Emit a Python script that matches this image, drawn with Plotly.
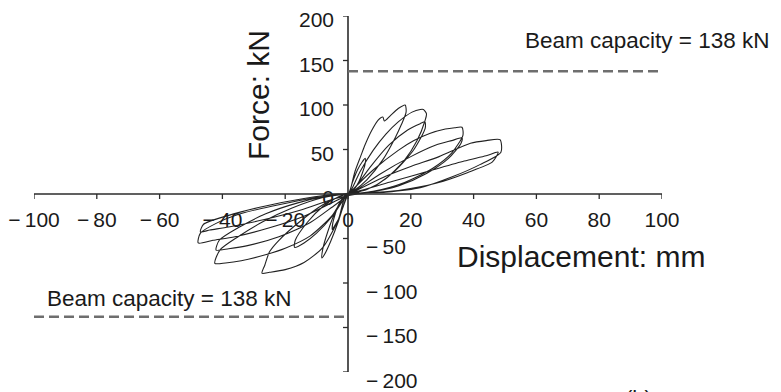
import plotly.graph_objects as go

# ---------------- data ----------------
x_ticks = [-100, -80, -60, -40, -20, 0, 20, 40, 60, 80, 100]
x_tick_labels = ["\u2212\u2009100", "\u2212\u200980", "\u2212\u200960", "\u2212\u200940", "\u2212\u200920",
                 "0", "20", "40", "60", "80", "100"]
y_ticks_pos = [0, 50, 100, 150, 200]
y_tick_labels_pos = ["0", "50", "100", "150", "200"]
y_ticks_neg = [-50, -100, -150, -200]
y_tick_labels_neg = ["\u2212\u200950", "\u2212\u2009100", "\u2212\u2009150", "\u2212\u2009200"]
y_tick_marks = [200, 150, 100, 50, -50, -100, -150, -200]

beam_capacity = 138

cycle1_disp = [0, 1.5, 3, 4.5, 5.5, 5.4, 3.5, 1.5, 0, -1.5, -3, -4.5, -5, -4.8, -3, -1, 0.5]
cycle1_force = [0, 14, 27, 36, 40, 33, 14, 3, -1, -14, -28, -37, -40, -32, -12, -2, 1]

cycle2_disp = [1, 2.2, 4, 5.4, 7.5, 9.6, 11.1, 11.6, 13.5, 16, 18.2, 18.5, 17, 15, 11, 6, 2, 0,
               -1, -3, -5.5, -7.5, -8.3, -8.1, -6.5, -4, -1.5, 0.5]
cycle2_force = [8, 25, 42, 55, 71, 83, 86.5, 82, 88, 96, 100, 92, 78, 63, 38, 16, 4, 0,
                -8, -30, -53, -68, -72, -63, -43, -20, -5, 1]

cycle3_disp = [1, 4, 8, 12, 16, 20.4, 23, 24, 25, 24.5, 22, 18, 12, 6, 1,
               -1, -5, -10, -14, -17, -16.8, -13, -8, -3, 0.5]
cycle3_force = [4, 26, 49, 67, 81, 92, 95, 95, 90, 82, 60, 38, 17, 5, 0,
                -5, -25, -44, -55, -60, -52, -32, -14, -3, 1]

cycle4_disp = [2, 7, 13, 19, 23, 24.5, 24.6, 21, 15, 8, 1,
               -1, -3, -8, -14, -20, -25, -27.4, -26.5, -25, -22, -15, -8, -2, 0.5]
cycle4_force = [6, 30, 55, 72, 79, 81, 74, 50, 26, 8, 0,
                -4, -28, -60, -77, -85, -88, -89, -80, -65, -52, -30, -12, -2, 1]

cycle5_disp = [1, 8, 16, 21, 26, 31, 34, 36.3, 36.6, 33, 27, 18, 8, 1,
               -1, -5, -12, -20, -26, -34, -39, -42.4, -40.8, -35, -27, -18, -8, 0.5]
cycle5_force = [3, 27, 49, 60, 68, 73, 74.5, 75, 66, 46, 29, 13, 3, 0,
                -2, -24, -47, -61, -68, -75, -77.5, -78, -63, -48, -31, -16, -4, 1]

cycle6_disp = [2, 10, 20, 28, 33, 36.3, 36, 32, 25, 16, 7, 1,
               -4, -12, -22, -32, -38, -42, -41, -35, -26, -16, -6, 0.5]
cycle6_force = [3, 22, 42, 55, 60, 63, 57, 40, 23, 9, 2, 0,
                -12, -32, -48, -58, -61.5, -63, -52, -38, -22, -10, -2, 1]

cycle7_disp = [2, 12, 20, 29, 39, 44, 48.4, 48.7, 42, 33, 23, 12, 1,
               -4, -14, -25, -36, -43, -47.7, -47, -42, -34, -22, -10, 0.5]
cycle7_force = [3, 20, 31, 42, 57, 60, 61, 47, 33, 19, 7, 2, 0,
                -8, -25, -38, -48, -52, -55, -44, -33, -22, -12, -4, 1]

cycle8_disp = [3, 14, 26, 37, 44, 47.8, 46, 38, 28, 16, 3,
               -4, -15, -27, -38, -44, -47, -46, -38, -27, -14, -3, 0]
cycle8_force = [3, 14, 26, 37, 43, 47, 36, 24, 12, 4, 0,
                -5, -18, -29, -37, -40.5, -42.5, -34, -24, -14, -5, 0, 0]

cycles_disp = [cycle1_disp, cycle2_disp, cycle3_disp, cycle4_disp,
               cycle5_disp, cycle6_disp, cycle7_disp, cycle8_disp]
cycles_force = [cycle1_force, cycle2_force, cycle3_force, cycle4_force,
                cycle5_force, cycle6_force, cycle7_force, cycle8_force]

# ---------------- layout geometry ----------------
W, H = 781, 392
L, R, T, B = 34, 119, 16, 20
XR = [-100, 100]
YR = [-200, 200]
px_x = (W - L - R) / (XR[1] - XR[0])   # pixels per mm
px_y = (H - T - B) / (YR[1] - YR[0])   # pixels per kN

FONT = "Liberation Sans, Arial, Helvetica, sans-serif"
AX = "#2b2b2b"
TXT = "#1a1a1a"
TICK_SIZE = 21


def ypaper(v):
    return (v - YR[0]) / (YR[1] - YR[0])


disp_all, force_all = [], []
for d, f in zip(cycles_disp, cycles_force):
    disp_all += d
    force_all += f

fig = go.Figure()

# tick labels as text traces (drawn under the curves)
fig.add_trace(go.Scatter(
    x=x_ticks, y=[-28 / px_y] * len(x_ticks), mode="text", text=x_tick_labels,
    textposition="middle center", textfont=dict(family=FONT, size=TICK_SIZE, color=TXT),
    hoverinfo="skip", showlegend=False, cliponaxis=False))
fig.add_trace(go.Scatter(
    x=[-14 / px_x] * len(y_ticks_pos), y=[v - 6 / px_y for v in y_ticks_pos], mode="text",
    text=y_tick_labels_pos, textposition="middle left",
    textfont=dict(family=FONT, size=TICK_SIZE, color=TXT), hoverinfo="skip", showlegend=False,
    cliponaxis=False))

# hysteresis curve
fig.add_trace(go.Scatter(
    x=disp_all, y=force_all, mode="lines",
    line=dict(color="#222222", width=1.1, shape="spline", smoothing=0.7),
    hoverinfo="skip", showlegend=False, cliponaxis=False))

shapes = []
# axes
shapes.append(dict(type="line", xref="x", yref="y", x0=XR[0], x1=XR[1], y0=0, y1=0,
                   line=dict(color=AX, width=1.6)))
shapes.append(dict(type="line", xref="x", yref="y", x0=0, x1=0, y0=YR[0], y1=YR[1],
                   line=dict(color=AX, width=1.6)))
for v in x_ticks:
    shapes.append(dict(type="line", xref="x", yref="y", x0=v, x1=v, y0=0, y1=-5 / px_y,
                       line=dict(color=AX, width=1.3)))
for v in y_tick_marks:
    shapes.append(dict(type="line", xref="x", yref="y", x0=0, x1=-5 / px_x, y0=v, y1=v,
                       line=dict(color=AX, width=1.3)))
# beam capacity lines
shapes.append(dict(type="line", xref="x", yref="y", x0=0, x1=XR[1], y0=beam_capacity, y1=beam_capacity,
                   line=dict(color="#6e6e6e", width=2.4, dash="10px,5px")))
shapes.append(dict(type="line", xref="x", yref="y", x0=XR[0], x1=0, y0=-beam_capacity, y1=-beam_capacity,
                   line=dict(color="#6e6e6e", width=2.4, dash="10px,5px")))

annotations = []
# negative y tick labels (right of the vertical axis)
for v, t in zip(y_ticks_neg, y_tick_labels_neg):
    annotations.append(dict(text=t, xref="x", yref="paper", x=0, y=ypaper(v),
                            xshift=16, yshift=-8, xanchor="left", yanchor="middle",
                            showarrow=False, font=dict(family=FONT, size=TICK_SIZE, color=TXT)))

annotations += [
    dict(text="Beam capacity = %d kN" % beam_capacity, xref="x", yref="y",
         x=(523 - L) / px_x + XR[0], y=beam_capacity + 31 / px_y,
         xanchor="left", yanchor="middle", showarrow=False,
         font=dict(family=FONT, size=22.5, color=TXT)),
    dict(text="Beam capacity = %d kN" % beam_capacity, xref="x", yref="y",
         x=(45 - L) / px_x + XR[0], y=-beam_capacity + 18 / px_y,
         xanchor="left", yanchor="middle", showarrow=False,
         font=dict(family=FONT, size=22.5, color=TXT)),
    dict(text="Displacement: mm", xref="x", yref="y",
         x=(455 - L) / px_x + XR[0], y=-62 / px_y,
         xanchor="left", yanchor="middle", showarrow=False,
         font=dict(family=FONT, size=30, color=TXT)),
    dict(text="Force: kN", xref="x", yref="y", textangle=-90,
         x=(258 - L) / px_x + XR[0], y=99 / px_y,
         xanchor="center", yanchor="middle", showarrow=False,
         font=dict(family=FONT, size=30, color=TXT)),
    dict(text="(b)", xref="x", yref="paper",
         x=(638 - L) / px_x + XR[0], y=0, yshift=-26,
         xanchor="center", yanchor="middle", showarrow=False,
         font=dict(family=FONT, size=22, color=TXT)),
]

fig.update_layout(
    width=W, height=H, margin=dict(l=L, r=R, t=T, b=B, pad=0),
    paper_bgcolor="white", plot_bgcolor="white",
    xaxis=dict(range=XR, showgrid=False, zeroline=False, showticklabels=False,
               showline=False, ticks="", fixedrange=True),
    yaxis=dict(range=YR, showgrid=False, zeroline=False, showticklabels=False,
               showline=False, ticks="", fixedrange=True),
    shapes=shapes, annotations=annotations, showlegend=False,
)

fig.write_html("out.html", config={"displayModeBar": False})
